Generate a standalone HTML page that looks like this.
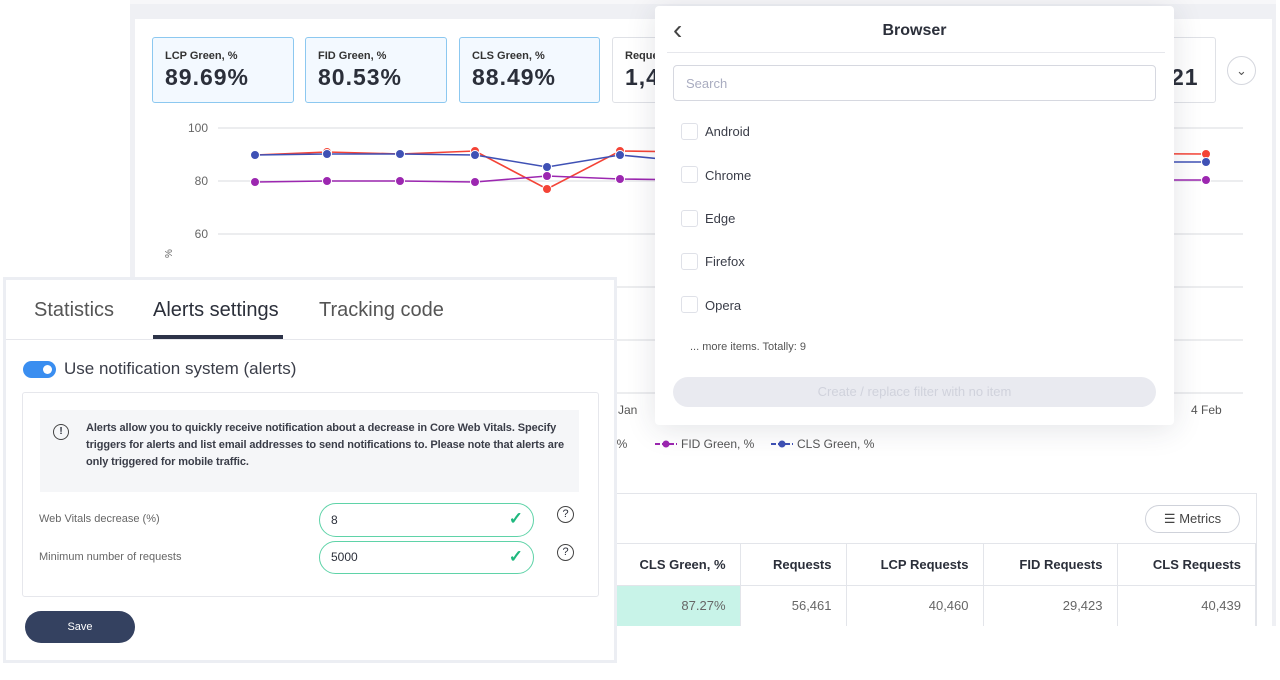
<!DOCTYPE html>
<html><head><meta charset="utf-8"><style>
*{box-sizing:border-box;margin:0;padding:0}
body{width:1280px;height:680px;background:#fff;font-family:"Liberation Sans",sans-serif;position:relative;overflow:hidden;color:#2b2f3a}
.abs{position:absolute}
.card{position:absolute;top:37px;height:66px;border:1px solid #8cc8f0;background:#f3f9ff;border-radius:3px;padding:12px 0 0 12px}
.card .t{font-size:11px;font-weight:bold;color:#333}
.card .v{font-size:23px;font-weight:bold;color:#2b2f3a;margin-top:2px;letter-spacing:1px}
.cb{position:absolute;left:681px;width:17px;height:17px;border:1px solid #dfe1e8;border-radius:3px}
.it{position:absolute;left:705px;font-size:13px;color:#3a3d48}
th,td{font-size:13px;text-align:right;padding-right:14px;border-right:1px solid #e3e5ea}
</style></head><body>
<div class="abs" style="left:130px;top:0;width:1146px;height:626px;background:#eff0f4"></div>
<div class="abs" style="left:135px;top:19px;width:1137px;height:607px;background:#fff"></div>
<div class="abs" style="left:130px;top:0;width:1146px;height:4px;background:#f7f7f9"></div>

<div class="card" style="left:152px;width:142px"><div class="t">LCP Green, %</div><div class="v">89.69%</div></div>
<div class="card" style="left:305px;width:142px"><div class="t">FID Green, %</div><div class="v">80.53%</div></div>
<div class="card" style="left:459px;width:141px"><div class="t">CLS Green, %</div><div class="v">88.49%</div></div>
<div class="card" style="left:612px;width:604px;background:#fff;border-color:#dfe1e6"><div class="t">Requests</div><div class="v">1,4</div><div class="v abs" style="left:558px;top:26px;margin:0">21</div></div>
<div class="abs" style="left:1227px;top:56px;width:29px;height:29px;border:1px solid #d5d7de;border-radius:50%;text-align:center;line-height:27px;color:#555;font-size:13px">&#8964;</div>

<svg class="abs" style="left:0;top:0" width="1280" height="680">
<g stroke="#e6e7ea" stroke-width="1.5">
<line x1="218" y1="128" x2="1243" y2="128"/><line x1="218" y1="181" x2="1243" y2="181"/><line x1="218" y1="234" x2="1243" y2="234"/><line x1="218" y1="287" x2="1243" y2="287"/><line x1="218" y1="340" x2="1243" y2="340"/><line x1="218" y1="393" x2="1243" y2="393"/>
</g>
<g font-size="12" fill="#666" text-anchor="end" font-family="Liberation Sans"><text x="208" y="132">100</text><text x="208" y="185">80</text><text x="208" y="238">60</text></g>
<text x="176" y="262" font-size="10" fill="#666" transform="rotate(-90 172 262)">%</text>
<text x="618" y="414" font-size="12" fill="#555">Jan</text><text x="1191" y="414" font-size="12" fill="#555">4 Feb</text>
<polyline fill="none" stroke="#f44336" stroke-width="1.6" points="255,155 327,152 400,154 475,151 547,189 620,151 693,152 1206,154"/>
<polyline fill="none" stroke="#3f51b5" stroke-width="1.6" points="255,155 327,154 400,154 475,155 547,167 620,155 693,162 1206,162"/>
<polyline fill="none" stroke="#9c27b0" stroke-width="1.6" points="255,182 327,181 400,181 475,182 547,176 620,179 693,180 1206,180"/>
<g fill="#f44336" stroke="#fff"><circle cx="327" cy="152" r="4.5"/><circle cx="475" cy="151" r="4.5"/><circle cx="547" cy="189" r="4.5"/><circle cx="620" cy="151" r="4.5"/><circle cx="1206" cy="154" r="4.5"/></g>
<g fill="#3f51b5" stroke="#fff"><circle cx="255" cy="155" r="4.5"/><circle cx="327" cy="154" r="4.5"/><circle cx="400" cy="154" r="4.5"/><circle cx="475" cy="155" r="4.5"/><circle cx="547" cy="167" r="4.5"/><circle cx="620" cy="155" r="4.5"/><circle cx="1206" cy="162" r="4.5"/></g>
<g fill="#9c27b0" stroke="#fff"><circle cx="255" cy="182" r="4.5"/><circle cx="327" cy="181" r="4.5"/><circle cx="400" cy="181" r="4.5"/><circle cx="475" cy="182" r="4.5"/><circle cx="547" cy="176" r="4.5"/><circle cx="620" cy="179" r="4.5"/><circle cx="1206" cy="180" r="4.5"/></g>
<text x="610" y="448" font-size="12" fill="#555">, %</text>
<line x1="655" y1="444" x2="677" y2="444" stroke="#9c27b0" stroke-width="2" stroke-dasharray="5,2"/><circle cx="666" cy="444" r="3.5" fill="#9c27b0"/>
<text x="681" y="448" font-size="12" fill="#555">FID Green, %</text>
<line x1="771" y1="444" x2="793" y2="444" stroke="#3f51b5" stroke-width="2" stroke-dasharray="5,2"/><circle cx="782" cy="444" r="3.5" fill="#3f51b5"/>
<text x="797" y="448" font-size="12" fill="#555">CLS Green, %</text>
</svg>

<div class="abs" style="left:612px;top:493px;width:645px;height:133px;border:1px solid #e3e5ea;border-bottom:none;background:#fff"></div>
<div class="abs" style="left:1145px;top:505px;width:95px;height:28px;border:1px solid #cfd2da;border-radius:14px;font-size:13px;color:#444;text-align:center;line-height:26px">&#9776; Metrics</div>
<table class="abs" style="left:616px;top:543px;width:640px;border-collapse:collapse;border-top:1px solid #e3e5ea">
<tr style="height:42px;border-bottom:1px solid #e3e5ea"><th style="width:124px">CLS Green, %</th><th style="width:106px">Requests</th><th style="width:137px">LCP Requests</th><th style="width:134px">FID Requests</th><th>CLS Requests</th></tr>
<tr style="height:40px;color:#666"><td style="background:#c8f3e8;color:#666">87.27%</td><td>56,461</td><td>40,460</td><td>29,423</td><td>40,439</td></tr>
</table>

<div class="abs" style="left:655px;top:6px;width:519px;height:419px;background:#fff;border-radius:4px;box-shadow:0 4px 30px rgba(40,45,70,.13)">
<div class="abs" style="left:18px;top:8px;font-size:28px;color:#444;font-weight:300">&#8249;</div>
<div class="abs" style="left:0;width:519px;top:16px;text-align:center;font-size:16px;font-weight:bold;color:#2b2f3a">Browser</div>
<div class="abs" style="left:12px;top:46px;width:498px;height:1px;background:#e6e7ec"></div>
<div class="abs" style="left:18px;top:59px;width:483px;height:36px;border:1px solid #d6d8e0;border-radius:4px;font-size:13px;color:#a9acc0;padding:10px 12px">Search</div>
<div class="abs" style="left:35px;top:335px;font-size:11px;color:#555">... more items. Totally: 9</div>
<div class="abs" style="left:18px;top:371px;width:483px;height:30px;background:#e9eaf0;border-radius:15px;text-align:center;line-height:30px;font-size:13px;color:#d0d2dc">Create / replace filter with no item</div>
</div>
<div class="cb" style="top:123px"></div><div class="it" style="top:124px">Android</div>
<div class="cb" style="top:166px"></div><div class="it" style="top:168px">Chrome</div>
<div class="cb" style="top:210px"></div><div class="it" style="top:211px">Edge</div>
<div class="cb" style="top:253px"></div><div class="it" style="top:254px">Firefox</div>
<div class="cb" style="top:296px"></div><div class="it" style="top:298px">Opera</div>

<div class="abs" style="left:3px;top:277px;width:614px;height:386px;background:#fff;border:3px solid #eceef3">
<div class="abs" style="left:28px;top:19px;font-size:20px;color:#555">Statistics</div>
<div class="abs" style="left:147px;top:19px;font-size:20px;color:#2b2f3a">Alerts settings</div>
<div class="abs" style="left:313px;top:19px;font-size:20px;color:#555">Tracking code</div>
<div class="abs" style="left:0;top:59px;width:608px;height:1px;background:#e6e7ec"></div>
<div class="abs" style="left:147px;top:55px;width:130px;height:4px;background:#2d3348"></div>
<div class="abs" style="left:17px;top:81px;width:33px;height:17px;border-radius:9px;background:#3a8ef0"><div class="abs" style="left:20px;top:4px;width:9px;height:9px;border-radius:50%;background:#fff"></div></div>
<div class="abs" style="left:58px;top:79px;font-size:17px;color:#3a3d48">Use notification system (alerts)</div>
<div class="abs" style="left:16px;top:112px;width:577px;height:205px;border:1px solid #e6e7ec;border-radius:3px">
<div class="abs" style="left:17px;top:17px;width:539px;height:82px;background:#f5f6f8"></div>
<div class="abs" style="left:30px;top:31px;width:16px;height:16px;border:1.5px solid #444;border-radius:50%;font-size:10px;text-align:center;line-height:13px;font-weight:bold">!</div>
<div class="abs" style="left:63px;top:27px;width:495px;font-size:11px;line-height:17px;color:#3a3d48;font-weight:bold;letter-spacing:-0.1px">Alerts allow you to quickly receive notification about a decrease in Core Web Vitals. Specify triggers for alerts and list email addresses to send notifications to. Please note that alerts are only triggered for mobile traffic.</div>
<div class="abs" style="left:16px;top:120px;font-size:11px;color:#666">Web Vitals decrease (%)</div>
<div class="abs" style="left:16px;top:158px;font-size:11px;color:#666">Minimum number of requests</div>
<div class="abs" style="left:296px;top:110px;width:215px;height:34px;border:1.5px solid #5fd3a8;border-radius:17px;font-size:12px;padding:9px 11px">8<span class="abs" style="right:10px;top:5px;color:#1fb87e;font-size:17px;font-weight:bold">&#10003;</span></div>
<div class="abs" style="left:296px;top:148px;width:215px;height:33px;border:1.5px solid #5fd3a8;border-radius:17px;font-size:12px;padding:8px 11px">5000<span class="abs" style="right:10px;top:5px;color:#1fb87e;font-size:17px;font-weight:bold">&#10003;</span></div>
<div class="abs" style="left:534px;top:113px;width:17px;height:17px;border:1.3px solid #444;border-radius:50%;font-size:11px;text-align:center;line-height:15px">?</div>
<div class="abs" style="left:534px;top:151px;width:17px;height:17px;border:1.3px solid #444;border-radius:50%;font-size:11px;text-align:center;line-height:15px">?</div>
</div>
<div class="abs" style="left:19px;top:331px;width:110px;height:32px;border-radius:16px;background:#344160;color:#fff;font-size:11px;text-align:center;line-height:32px">Save</div>
</div>
</body></html>
